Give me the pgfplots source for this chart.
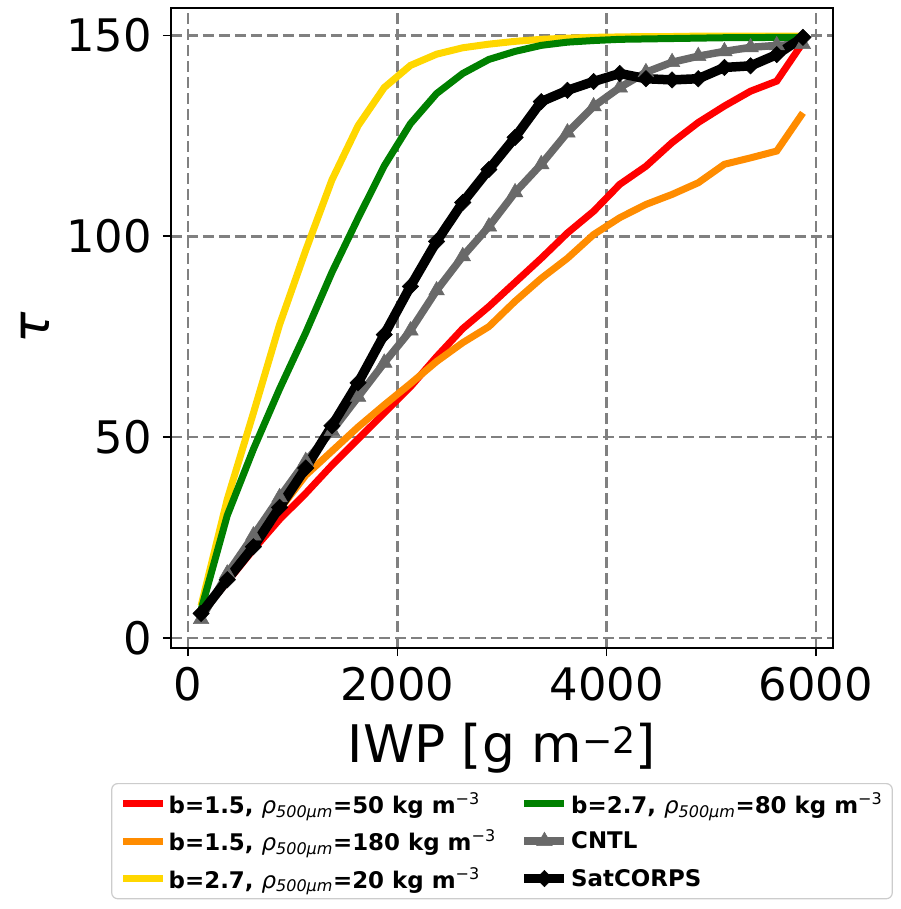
\documentclass[border=0pt]{standalone}
\usepackage{fontspec}
\setmainfont{DejaVu Sans}
\usepackage{pgfplots}
\usepackage{pgfplotstable}
\pgfplotsset{compat=1.18}

\definecolor{cntl}{HTML}{696969}
\definecolor{goldy}{HTML}{FFD700}
\definecolor{dorange}{HTML}{FF8C00}
\definecolor{dgreen}{HTML}{008000}
\definecolor{gridgray}{HTML}{808080}
\definecolor{legedge}{HTML}{CCCCCC}

\newcommand{\rhosub}{{\mdseries\itshape ρ}\textsubscript{\mdseries\itshape 500μm}}
\newcommand{\unitm}{kg m\textsuperscript{\mdseries −3}}

% tau vs IWP, one column per run
\pgfplotstableread{
iwp   red    orange yellow green  cntl   sat
125   6.0    6.0    8.0    7.0    4.7    6.1
375   14.0   14.5   34.5   30.5   16.0   14.5
625   22.0   22.5   56.0   47.0   25.5   22.7
875   29.5   32.0   78.0   62.0   35.0   32.5
1125  36.0   40.5   96.5   76.0   44.0   42.3
1375  43.0   46.5   114.0  91.0   51.5   52.8
1625  49.5   52.5   127.5  104.5  60.0   63.5
1875  56.0   58.0   137.0  117.5  68.5   75.5
2125  62.5   63.3   142.5  128.0  76.5   87.5
2375  70.0   68.8   145.3  135.5  86.5   98.7
2625  77.0   73.5   146.9  140.5  95.0   108.4
2875  82.5   77.5   147.8  144.0  102.4  116.6
3125  88.5   83.8   148.5  146.0  110.9  124.6
3375  94.5   89.5   149.0  147.5  117.9  133.5
3625  100.8  94.5   149.3  148.3  125.8  136.3
3875  106.2  100.4  149.5  148.7  132.3  138.5
4125  112.9  104.6  149.6  149.0  137.0  140.5
4375  117.4  107.9  149.7  149.1  140.8  139.2
4625  123.3  110.4  149.7  149.2  143.3  138.9
4875  128.3  113.3  149.8  149.3  144.8  139.2
5125  132.4  117.9  149.8  149.4  146.0  142.0
5375  136.1  119.5  149.8  149.4  147.0  142.4
5625  138.6  121.2  149.8  149.5  147.5  145.2
5875  148.2  130.7  149.8  149.5  147.8  149.5
}\tauData

\begin{document}
\begin{tikzpicture}
\useasboundingbox (-171bp,-261bp) rectangle (730bp,648bp);
\begin{axis}[
  at={(0,0)}, anchor=south west,
  scale only axis, width=662bp, height=640bp,
  xmin=-162.5, xmax=6162.5, ymin=-2.5, ymax=156.8,
  xtick={0,2000,4000,6000}, ytick={0,50,100,150},
  scaled x ticks=false,
  /pgf/number format/assume math mode=true,
  /pgf/number format/1000 sep={},
  tick pos=left, tick align=outside, major tick length=8bp,
  every tick/.style={black, line width=1.4bp},
  axis line style={line width=1.4bp},
  xticklabel style={font=\fontsize{45}{54}\selectfont, inner sep=0pt, anchor=north, yshift=-11bp},
  yticklabel style={font=\fontsize{45}{54}\selectfont, inner sep=0pt, anchor=east, xshift=-11bp},
  grid=major,
  every axis grid/.style={draw=gridgray, line width=2.8bp, dash pattern=on 11bp off 5bp},
  every major grid/.style={draw=gridgray, line width=2.8bp, dash pattern=on 11bp off 5bp},
  xlabel={IWP [g m\textsuperscript{−2}]},
  xlabel style={font=\fontsize{52}{60}\selectfont, at={(axis description cs:0.5,0)}, anchor=base, yshift=-114bp, inner sep=0pt},
  ylabel={\itshape τ},
  ylabel style={font=\fontsize{52}{60}\selectfont, at={(axis description cs:-0.2054,0.5)}, anchor=center, inner sep=0pt},
  legend columns=2,
  legend cell align=left,
  legend image code/.code={\draw[sharp corners, mark repeat=2, mark phase=2] plot coordinates {(0bp,0bp) (20bp,0bp) (40bp,0bp)};},
  legend style={at={(0.5,0)}, anchor=north, yshift=-135bp,
    font=\fontsize{23}{27}\selectfont\bfseries,
    draw=legedge, line width=1.2bp, rounded corners=6bp, fill=white,
    inner xsep=8bp, inner ysep=7bp, row sep=11bp,
    /tikz/every even column/.append style={column sep=22bp}},
]
\addplot[red, line width=7bp, forget plot] table[x=iwp, y=red] {\tauData};
\addplot[dorange, line width=7bp, forget plot] table[x=iwp, y=orange] {\tauData};
\addplot[goldy, line width=7bp, forget plot] table[x=iwp, y=yellow] {\tauData};
\addplot[dgreen, line width=7bp, forget plot] table[x=iwp, y=green] {\tauData};
\addplot[cntl, line width=7.5bp, mark=triangle*, mark size=9bp,
  mark options={solid, fill=cntl, draw=cntl, line width=0.5bp}, forget plot] table[x=iwp, y=cntl] {\tauData};
\addplot[black, line width=9.5bp, mark=square*, mark size=5.8bp,
  mark options={solid, rotate=45, fill=black, draw=black, line width=0.5bp}, forget plot] table[x=iwp, y=sat] {\tauData};

\addlegendimage{red, line width=7bp}
\addlegendentry{b=1.5, \rhosub=50 \unitm}
\addlegendimage{dgreen, line width=7bp}
\addlegendentry{b=2.7, \rhosub=80 \unitm}
\addlegendimage{dorange, line width=7bp}
\addlegendentry{b=1.5, \rhosub=180 \unitm}
\addlegendimage{cntl, line width=7.5bp, mark=triangle*, mark size=9bp, mark options={solid, fill=cntl, draw=cntl, line width=0.5bp}}
\addlegendentry{CNTL}
\addlegendimage{goldy, line width=7bp}
\addlegendentry{b=2.7, \rhosub=20 \unitm}
\addlegendimage{black, line width=9.5bp, mark=square*, mark size=5.8bp, mark options={solid, rotate=45, fill=black, draw=black, line width=0.5bp}}
\addlegendentry{SatCORPS}
\end{axis}
\end{tikzpicture}
\end{document}
